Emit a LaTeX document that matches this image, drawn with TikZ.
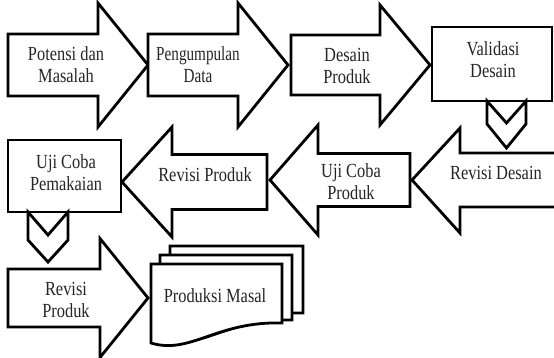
\documentclass[tikz,border=0pt]{standalone}
\usepackage{fontspec}
\setmainfont{Liberation Serif}
\newfontfamily\tnr{Liberation Serif}
\usepackage{graphicx}
\newcommand{\lbltxt}[2][0.82]{\scalebox{#1}[1]{\tnr\fontsize{20}{22}\selectfont\begin{tabular}{@{}c@{}}#2\end{tabular}}}
% right arrow: x0, xhead, xtip, yc, bodyhalf, headhalf
\newcommand{\RArrow}[6]{\draw[shp] (#1,#4-#5) -- (#2,#4-#5) -- (#2,#4-#6) -- (#3,#4) -- (#2,#4+#6) -- (#2,#4+#5) -- (#1,#4+#5) -- cycle;}
% left arrow: xright, xhead, xtip, yc, bodyhalf, headhalf
\newcommand{\LArrow}[6]{\draw[shp] (#1,#4-#5) -- (#2,#4-#5) -- (#2,#4-#6) -- (#3,#4) -- (#2,#4+#6) -- (#2,#4+#5) -- (#1,#4+#5) -- cycle;}
% chevron: xl, xr, top, notch, sidebottom, tip
\newcommand{\Chev}[6]{\draw[shp] (#1,#3) -- ({(#1+#2)/2},#4) -- (#2,#3) -- (#2,#5) -- ({(#1+#2)/2},#6) -- (#1,#5) -- cycle;}
% document: left, top, right, rightbottom, leftbottom
\newcommand{\Doc}[5]{\draw[shp] (#1,#2) -- (#3,#2) -- (#3,#4) .. controls ({#3-0.5*(#3-#1)},#4-2) and ({#1+0.3*(#3-#1)},#5+12) .. (#1,#5) -- cycle;}
\begin{document}
\begin{tikzpicture}[x=1pt,y=-1pt,
  shp/.style={draw=black, fill=white, line width=2.8pt, line join=miter},
  lbl/.style={inner sep=0pt, outer sep=0pt, text=black!85}]
\useasboundingbox (0,0) rectangle (554,358);
\clip (0,0) rectangle (554,358);
% row 1
\RArrow{8}{98}{148}{65}{31}{62}
\RArrow{148}{238}{288}{65}{31}{62}
\RArrow{291}{380}{430}{65}{30}{60}
\draw[shp] (432,27) rectangle (552,101);
\Chev{487}{526}{101}{123}{124}{148}
% row 2
\draw[shp] (570,153) -- (460,153) -- (460,128) -- (412,180) -- (460,233) -- (460,207) -- (570,207);
\LArrow{410}{318}{270}{180}{26.5}{55}
\LArrow{267}{172}{122}{182}{27.5}{55}
\draw[shp] (8,140) rectangle (121,212);
\Chev{28}{68}{212}{235}{240}{262}
% row 3
\RArrow{8}{100}{148}{298}{29}{59.5}
\Doc{170}{246}{303}{313}{333}
\Doc{160}{255}{292}{320}{340}
\Doc{151}{264}{282}{323}{343}
% labels
\node[lbl] (potensi) at (66,67.6) {\lbltxt{Potensi dan\\Masalah}};
\node[lbl] (pengumpulan) at (198,67.6) {\lbltxt[0.76]{Pengumpulan\\Data}};
\node[lbl] (desain) at (347,68) {\lbltxt{Desain\\Produk}};
\node[lbl] (validasi) at (493,62) {\lbltxt{Validasi\\Desain}};
\node[lbl] (revdesain) at (496,175.6) {\lbltxt{Revisi Desain}};
\node[lbl] (ujiproduk) at (351,184) {\lbltxt{Uji Coba\\Produk}};
\node[lbl] (revproduk) at (205,177.6) {\lbltxt{Revisi Produk}};
\node[lbl] (pemakaian) at (66,175) {\lbltxt{Uji Coba\\Pemakaian}};
\node[lbl] (revproduk2) at (66,301.6) {\lbltxt{Revisi\\Produk}};
\node[lbl] (produksi) at (215,297.6) {\lbltxt{Produksi Masal}};
\end{tikzpicture}
\end{document}
